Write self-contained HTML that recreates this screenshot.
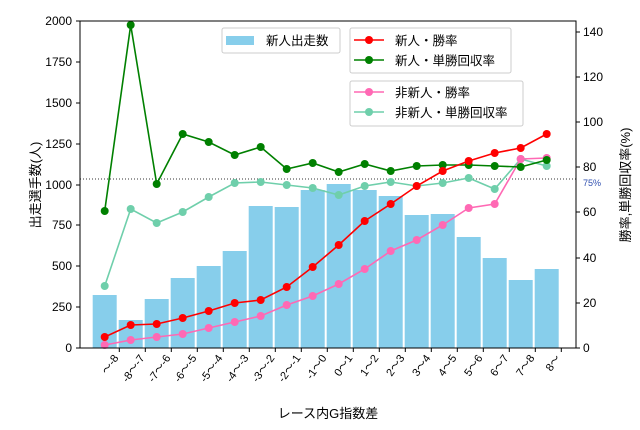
<!DOCTYPE html><html><head><meta charset="utf-8"><style>body{margin:0;background:#fff}svg{display:block;font-family:"Liberation Sans","Noto Sans CJK JP",sans-serif}</style></head><body>
<svg width="640" height="430" viewBox="0 0 640 430">
<g fill="#87ceeb">
<rect x="92.7" y="295" width="24" height="53"/><rect x="118.7" y="320" width="24" height="28"/><rect x="144.7" y="299" width="24" height="49"/><rect x="170.7" y="278" width="24" height="70"/><rect x="196.7" y="266" width="24" height="82"/><rect x="222.7" y="251" width="24" height="97"/><rect x="248.7" y="206" width="24" height="142"/><rect x="274.7" y="207" width="24" height="141"/><rect x="300.7" y="190" width="24" height="158"/><rect x="326.7" y="184" width="24" height="164"/><rect x="352.7" y="190" width="24" height="158"/><rect x="378.7" y="196" width="24" height="152"/><rect x="404.7" y="215" width="24" height="133"/><rect x="430.7" y="214" width="24" height="134"/><rect x="456.7" y="237" width="24" height="111"/><rect x="482.7" y="258" width="24" height="90"/><rect x="508.7" y="280" width="24" height="68"/><rect x="534.7" y="269" width="24" height="79"/>
</g>
<line x1="80" y1="179" x2="576" y2="179" stroke="#333" stroke-width="1" stroke-dasharray="1,2"/>
<text x="583" y="186" font-size="9" fill="#3050b0">75%</text>
<g fill="none" stroke-width="1.6">
<polyline stroke="#6fcfab" points="104.7,286 130.7,209 156.7,223 182.7,212 208.7,197 234.7,183 260.7,182 286.7,185 312.7,188 338.7,195 364.7,186 390.7,182 416.7,186 442.7,183 468.7,178 494.7,189 520.7,159 546.7,166"/>
<polyline stroke="#ff69b4" points="104.7,345 130.7,340 156.7,337 182.7,334 208.7,328 234.7,322 260.7,316 286.7,305 312.7,296 338.7,284 364.7,269 390.7,251 416.7,240 442.7,225 468.7,208 494.7,204 520.7,159 546.7,158"/>
<polyline stroke="#008000" points="104.7,211 130.7,25 156.7,184 182.7,134 208.7,142 234.7,155 260.7,147 286.7,169 312.7,163 338.7,172 364.7,164 390.7,171 416.7,166 442.7,165 468.7,165 494.7,166 520.7,167 546.7,160"/>
<polyline stroke="#ff0000" points="104.7,337 130.7,325 156.7,324 182.7,318 208.7,311 234.7,303 260.7,300 286.7,287 312.7,267 338.7,245 364.7,221 390.7,204 416.7,186 442.7,171 468.7,161 494.7,153 520.7,148 546.7,134"/>
</g>
<g fill="#6fcfab"><circle cx="104.7" cy="286" r="4"/><circle cx="130.7" cy="209" r="4"/><circle cx="156.7" cy="223" r="4"/><circle cx="182.7" cy="212" r="4"/><circle cx="208.7" cy="197" r="4"/><circle cx="234.7" cy="183" r="4"/><circle cx="260.7" cy="182" r="4"/><circle cx="286.7" cy="185" r="4"/><circle cx="312.7" cy="188" r="4"/><circle cx="338.7" cy="195" r="4"/><circle cx="364.7" cy="186" r="4"/><circle cx="390.7" cy="182" r="4"/><circle cx="416.7" cy="186" r="4"/><circle cx="442.7" cy="183" r="4"/><circle cx="468.7" cy="178" r="4"/><circle cx="494.7" cy="189" r="4"/><circle cx="520.7" cy="159" r="4"/><circle cx="546.7" cy="166" r="4"/></g>
<g fill="#ff69b4"><circle cx="104.7" cy="345" r="4"/><circle cx="130.7" cy="340" r="4"/><circle cx="156.7" cy="337" r="4"/><circle cx="182.7" cy="334" r="4"/><circle cx="208.7" cy="328" r="4"/><circle cx="234.7" cy="322" r="4"/><circle cx="260.7" cy="316" r="4"/><circle cx="286.7" cy="305" r="4"/><circle cx="312.7" cy="296" r="4"/><circle cx="338.7" cy="284" r="4"/><circle cx="364.7" cy="269" r="4"/><circle cx="390.7" cy="251" r="4"/><circle cx="416.7" cy="240" r="4"/><circle cx="442.7" cy="225" r="4"/><circle cx="468.7" cy="208" r="4"/><circle cx="494.7" cy="204" r="4"/><circle cx="520.7" cy="159" r="4"/><circle cx="546.7" cy="158" r="4"/></g>
<g fill="#008000"><circle cx="104.7" cy="211" r="4"/><circle cx="130.7" cy="25" r="4"/><circle cx="156.7" cy="184" r="4"/><circle cx="182.7" cy="134" r="4"/><circle cx="208.7" cy="142" r="4"/><circle cx="234.7" cy="155" r="4"/><circle cx="260.7" cy="147" r="4"/><circle cx="286.7" cy="169" r="4"/><circle cx="312.7" cy="163" r="4"/><circle cx="338.7" cy="172" r="4"/><circle cx="364.7" cy="164" r="4"/><circle cx="390.7" cy="171" r="4"/><circle cx="416.7" cy="166" r="4"/><circle cx="442.7" cy="165" r="4"/><circle cx="468.7" cy="165" r="4"/><circle cx="494.7" cy="166" r="4"/><circle cx="520.7" cy="167" r="4"/><circle cx="546.7" cy="160" r="4"/></g>
<g fill="#ff0000"><circle cx="104.7" cy="337" r="4"/><circle cx="130.7" cy="325" r="4"/><circle cx="156.7" cy="324" r="4"/><circle cx="182.7" cy="318" r="4"/><circle cx="208.7" cy="311" r="4"/><circle cx="234.7" cy="303" r="4"/><circle cx="260.7" cy="300" r="4"/><circle cx="286.7" cy="287" r="4"/><circle cx="312.7" cy="267" r="4"/><circle cx="338.7" cy="245" r="4"/><circle cx="364.7" cy="221" r="4"/><circle cx="390.7" cy="204" r="4"/><circle cx="416.7" cy="186" r="4"/><circle cx="442.7" cy="171" r="4"/><circle cx="468.7" cy="161" r="4"/><circle cx="494.7" cy="153" r="4"/><circle cx="520.7" cy="148" r="4"/><circle cx="546.7" cy="134" r="4"/></g>
<rect x="80" y="21" width="496" height="327" fill="none" stroke="#000" stroke-width="1"/>
<g stroke="#000">
<line x1="76" y1="348" x2="80" y2="348"/><line x1="76" y1="307" x2="80" y2="307"/><line x1="76" y1="266" x2="80" y2="266"/><line x1="76" y1="225" x2="80" y2="225"/><line x1="76" y1="185" x2="80" y2="185"/><line x1="76" y1="144" x2="80" y2="144"/><line x1="76" y1="103" x2="80" y2="103"/><line x1="76" y1="62" x2="80" y2="62"/><line x1="76" y1="21" x2="80" y2="21"/>
<line x1="576" y1="348" x2="580" y2="348"/><line x1="576" y1="303" x2="580" y2="303"/><line x1="576" y1="258" x2="580" y2="258"/><line x1="576" y1="212" x2="580" y2="212"/><line x1="576" y1="167" x2="580" y2="167"/><line x1="576" y1="122" x2="580" y2="122"/><line x1="576" y1="77" x2="580" y2="77"/><line x1="576" y1="32" x2="580" y2="32"/>
<path d="M119.3 348v4M145.3 348v4M171.3 348v4M197.3 348v4M223.3 348v4M249.3 348v4M275.3 348v4M301.3 348v4M327.3 348v4M353.3 348v4M379.3 348v4M405.3 348v4M431.3 348v4M457.3 348v4M483.3 348v4M509.3 348v4M535.3 348v4M561.3 348v4"/>
</g>
<g font-size="12" text-anchor="end" fill="#000">
<text x="72" y="352">0</text><text x="72" y="311">250</text><text x="72" y="270">500</text><text x="72" y="229">750</text><text x="72" y="189">1000</text><text x="72" y="148">1250</text><text x="72" y="107">1500</text><text x="72" y="66">1750</text><text x="72" y="25">2000</text>
</g>
<g font-size="12" fill="#000">
<text x="583" y="352">0</text><text x="583" y="307">20</text><text x="583" y="262">40</text><text x="583" y="216">60</text><text x="583" y="171">80</text><text x="583" y="126">100</text><text x="583" y="81">120</text><text x="583" y="36">140</text>
</g>
<g font-size="11" text-anchor="end" fill="#000">
<text transform="translate(119,358) rotate(-55)">～-8</text>
<text transform="translate(145,358) rotate(-55)">-8～-7</text>
<text transform="translate(171,358) rotate(-55)">-7～-6</text>
<text transform="translate(197,358) rotate(-55)">-6～-5</text>
<text transform="translate(223,358) rotate(-55)">-5～-4</text>
<text transform="translate(249,358) rotate(-55)">-4～-3</text>
<text transform="translate(275,358) rotate(-55)">-3～-2</text>
<text transform="translate(301,358) rotate(-55)">-2～-1</text>
<text transform="translate(327,358) rotate(-55)">-1～0</text>
<text transform="translate(353,358) rotate(-55)">0～1</text>
<text transform="translate(379,358) rotate(-55)">1～2</text>
<text transform="translate(405,358) rotate(-55)">2～3</text>
<text transform="translate(431,358) rotate(-55)">3～4</text>
<text transform="translate(457,358) rotate(-55)">4～5</text>
<text transform="translate(483,358) rotate(-55)">5～6</text>
<text transform="translate(509,358) rotate(-55)">6～7</text>
<text transform="translate(535,358) rotate(-55)">7～8</text>
<text transform="translate(561,358) rotate(-55)">8～</text>
</g>
<text x="328" y="418" font-size="13" text-anchor="middle">レース内G指数差</text>
<text transform="translate(40,185) rotate(-90)" font-size="13" text-anchor="middle">出走選手数(人)</text>
<text transform="translate(630,185) rotate(-90)" font-size="13" text-anchor="middle">勝率,単勝回収率(%)</text>
<g font-size="12.5" fill="#000">
<rect x="222" y="28" width="118" height="25" rx="2" fill="#fff" fill-opacity="0.85" stroke="#ccc"/>
<rect x="226" y="36" width="28" height="9" fill="#87ceeb"/>
<text x="266" y="45">新人出走数</text>
<rect x="350" y="28" width="161" height="45" rx="2" fill="#fff" fill-opacity="0.85" stroke="#ccc"/>
<line x1="354" y1="40" x2="384" y2="40" stroke="#f00" stroke-width="1.6"/><circle cx="369" cy="40" r="4" fill="#f00"/>
<text x="395" y="45">新人・勝率</text>
<line x1="354" y1="60" x2="384" y2="60" stroke="#008000" stroke-width="1.6"/><circle cx="369" cy="60" r="4" fill="#008000"/>
<text x="395" y="65">新人・単勝回収率</text>
<rect x="350" y="81" width="173" height="45" rx="2" fill="#fff" fill-opacity="0.85" stroke="#ccc"/>
<line x1="354" y1="92" x2="384" y2="92" stroke="#ff69b4" stroke-width="1.6"/><circle cx="369" cy="92" r="4" fill="#ff69b4"/>
<text x="395" y="97">非新人・勝率</text>
<line x1="354" y1="112" x2="384" y2="112" stroke="#6fcfab" stroke-width="1.6"/><circle cx="369" cy="112" r="4" fill="#6fcfab"/>
<text x="395" y="117">非新人・単勝回収率</text>
</g>
</svg>
</body></html>
